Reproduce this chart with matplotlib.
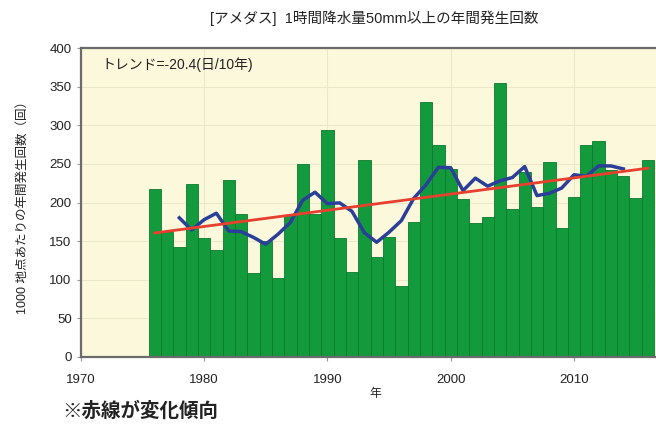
import numpy as np
import matplotlib
matplotlib.use("Agg")
from matplotlib import pyplot as plt

plt.rcParams['font.family'] = ['Liberation Sans', 'Noto Sans CJK JP']

# yearly counts per 1000 AMeDAS stations
years = np.arange(1976, 2017)
counts = np.array([
  218, 162, 143, 224, 154, 139, 229, 185, 109, 150,
  102, 184, 250, 185, 294, 154, 110, 255, 130, 156,
  92, 175, 330, 274, 244, 205, 173, 181, 355, 192,
  240, 194, 252, 167, 207, 274, 280, 242, 235, 206,
  255,
])
x_ticks = [1970, 1980, 1990, 2000, 2010]
trend_text = "トレンド=-20.4(日/10年)"
title = "[アメダス]  1時間降水量50mm以上の年間発生回数"
y_label = "1000 地点あたりの年間発生回数（回）"
note = "※赤線が変化傾向"

fig = plt.figure(figsize=(6.56, 4.26), dpi=100)
# axes runs past the right edge, the original picture is cropped there
ax = fig.add_axes([0.123, 0.162, 0.94, 0.725])
ax.set_facecolor('#fbf8dc')

ax.bar(years, counts, width=1.0, color='#139a3c', edgecolor='#0d7a2e', linewidth=0.6, zorder=2)

# 5-year running mean
run = np.convolve(counts, np.ones(5) / 5, mode='valid')
ax.plot(years[2:-2], run, color='#2b3f98', linewidth=2.5, zorder=3)

# linear trend
coef = np.polyfit(years, counts, 1)
ax.plot(years, np.polyval(coef, years), color='#e8402f', linewidth=2.0, zorder=4)

ax.set_xlim(1970, 2020)
ax.set_ylim(0, 400)
ax.set_xticks(x_ticks)
ax.set_yticks(range(0, 401, 50))
ax.tick_params(axis='both', labelsize=9.5, length=3, color='#999999', labelcolor='#222222')
ax.tick_params(axis='x', pad=9)
ax.grid(True, color='#ebe8c8', linewidth=0.8, zorder=0)
ax.set_axisbelow(True)
for s in ax.spines.values():
  s.set_color('#6b6b6b')
  s.set_linewidth(1.6)

ax.text(0.034, 0.945, trend_text, transform=ax.transAxes, fontsize=10,
        color='#222222', va='center', ha='left')

fig.text(0.57, 0.957, title, fontsize=10.5, ha='center', va='center', color='#222222')
fig.text(0.034, 0.52, y_label, rotation=90, fontsize=9, ha='center', va='center', color='#222222')
fig.text(0.572, 0.075, "年", fontsize=8.5, ha='center', va='center', color='#222222')
fig.text(0.095, 0.034, note, fontsize=14, fontweight='bold', ha='left', va='center', color='#222222')

fig.savefig('out.png', dpi=100)
